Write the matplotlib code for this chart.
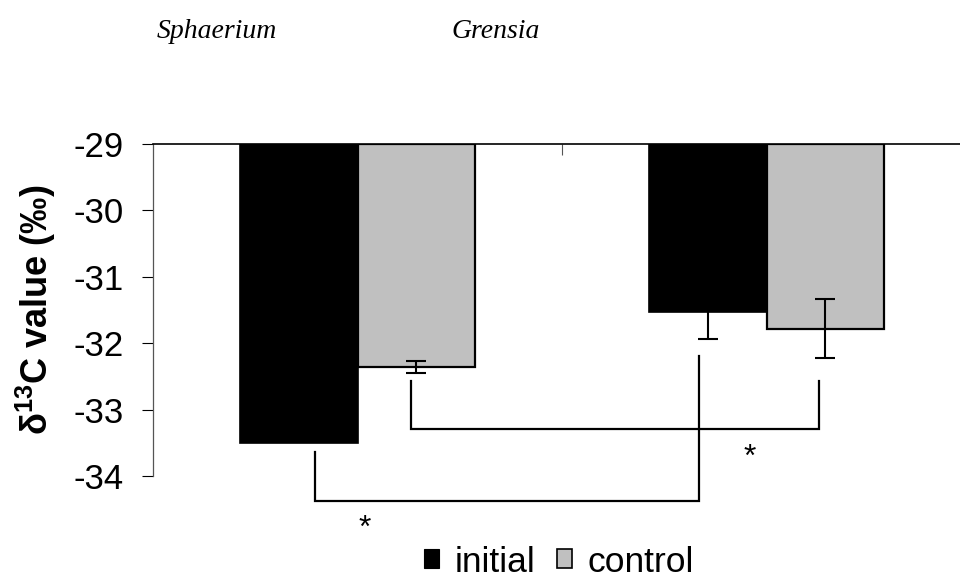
import matplotlib
matplotlib.use("Agg")
import matplotlib.pyplot as plt
import matplotlib.transforms as mtransforms
from matplotlib.patches import Patch

plt.rcParams['font.family'] = ['Liberation Sans', 'DejaVu Sans']
plt.rcParams['mathtext.fontset'] = 'custom'
plt.rcParams['mathtext.rm'] = 'Liberation Sans'
plt.rcParams['mathtext.bf'] = 'Liberation Sans:bold'

# ---- data ----
taxa = ['Sphaerium', 'Grensia']
series = ['initial', 'control']
initial_vals = [-33.50, -31.53]
initial_err = [0.0, 0.41]
control_vals = [-32.36, -31.78]
control_err = [0.09, 0.44]
yticks = [-29, -30, -31, -32, -33, -34]

# significance brackets: (x_left, x_right, y_left_top, y_right_top, y_bar)
brackets = [
    (-0.104, 0.835, -33.64, -32.20, -34.37),
    (0.131, 1.128, -32.565, -32.565, -33.29),
]
stars = [(0.018, -34.71), (0.960, -33.64)]

colors = ['#000000', '#c0c0c0']
bar_w = 0.288
base = -29

fig = plt.figure(figsize=(9.6, 5.84), dpi=100)
ax = fig.add_axes([153/960, 108/584, 818/960, 332/584])

x = list(range(len(taxa)))
xi = [v - bar_w/2 for v in x]
xc = [v + bar_w/2 for v in x]

ax.bar(xi, [v - base for v in initial_vals], bottom=base, width=bar_w,
       color=colors[0], edgecolor='black', linewidth=1.2, zorder=2, label='initial')
ax.bar(xc, [v - base for v in control_vals], bottom=base, width=bar_w,
       color=colors[1], edgecolor='black', linewidth=1.6, zorder=2, label='control')

for xs, vals, errs, z in [(xi, initial_vals, initial_err, 1), (xc, control_vals, control_err, 3)]:
    keep = [i for i, e in enumerate(errs) if e > 0]
    ax.errorbar([xs[i] for i in keep], [vals[i] for i in keep],
                yerr=[errs[i] for i in keep], fmt='none', ecolor='black',
                elinewidth=1.5, capsize=7.5, capthick=1.5, zorder=z)

for xl, xr, ylt, yrt, yb in brackets:
    ax.plot([xl, xl, xr, xr], [ylt, yb, yb, yrt], color='black', lw=1.6,
            clip_on=False, zorder=4, solid_joinstyle='miter')

star_tr = mtransforms.offset_copy(ax.transData, fig=fig, x=0, y=-14, units='dots')
for sx, sy in stars:
    ax.text(sx, sy, '*', transform=star_tr, ha='center', va='baseline',
            fontsize=23, clip_on=False)

ax.set_xlim(-0.5, 1.5)
ax.set_ylim(-34, -29)
ax.set_yticks(yticks)
ax.set_yticklabels([str(t) for t in yticks])
ax.tick_params(axis='y', direction='out', length=8, width=0.8, pad=13,
               labelsize=25, color='black')

ax.xaxis.tick_top()
ax.set_xticks([0.5])
ax.set_xticklabels([''])
ax.tick_params(axis='x', direction='in', length=8, width=0.8, color='#555555')

for s in ['right', 'bottom']:
    ax.spines[s].set_visible(False)
ax.spines['left'].set_color('#555555')
ax.spines['left'].set_linewidth(0.9)
ax.spines['top'].set_color('black')
ax.spines['top'].set_linewidth(1.2)
ax.spines['top'].set_zorder(5)
ax.patch.set_visible(False)

fig.text(36/960, 1 - 310/584, 'δ$^{\\mathbf{13}}$C value (‰)', rotation=90,
         ha='center', va='center', fontsize=26, fontweight='bold')

fig.text(157/960, 1 - 38/584, taxa[0], family='Liberation Serif', style='italic',
         fontsize=20, ha='left', va='baseline')
fig.text(451/960, 1 - 38/584, taxa[1], family='Liberation Serif', style='italic',
         fontsize=20, ha='left', va='baseline')

handles = [Patch(facecolor=colors[0], edgecolor='black', linewidth=0.8),
           Patch(facecolor=colors[1], edgecolor='black', linewidth=1.2)]
fig.legend(handles, series, loc='center', bbox_to_anchor=(559/960, 1 - 562/584),
           ncol=2, frameon=False, fontsize=25.5, handlelength=0.42, handleheight=0.45,
           handletextpad=0.45, columnspacing=0.6, borderaxespad=0, borderpad=0)

fig.savefig('out.png', dpi=100)
